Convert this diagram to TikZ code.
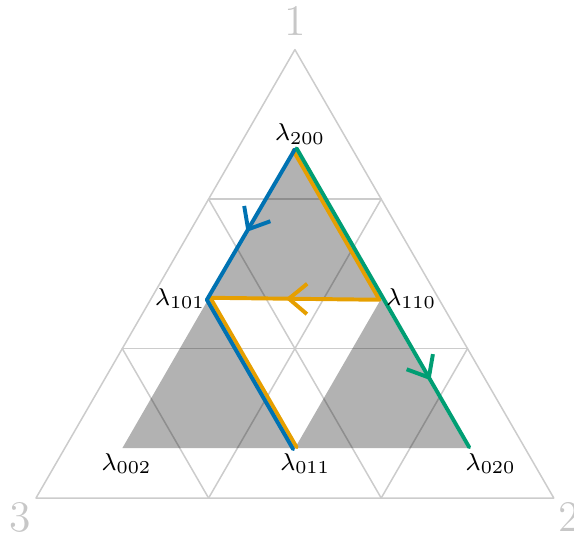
\documentclass[tikz,border=0pt]{standalone}
\usetikzlibrary{arrows.meta,decorations.markings}
\definecolor{walkblue}{RGB}{0,114,178}
\definecolor{walkorange}{RGB}{230,159,0}
\definecolor{walkgreen}{RGB}{0,158,115}
\tikzset{
	gridline/.style={draw=black!20, line width=0.5pt},
	cornerlabel/.style={text=black!22, font=\Large},
	ptlabel/.style={font=\footnotesize, inner sep=1.5pt},
	cell/.style={fill=black, fill opacity=0.3},
	walk/.style={line width=1.3pt},
	walkarrow/.style={postaction={decorate}, decoration={markings,
		mark=at position #1 with {\arrow[xshift=3pt]{Straight Barb[length=6pt,width=10pt]}}}},
	toright/.style={shift={(30:0.65pt)}},
	toleft/.style={shift={(210:0.65pt)}},
}
\begin{document}
\begin{tikzpicture}[scale=1, line join=round, line cap=round]
	\useasboundingbox (-0.417,-0.545) rectangle (6.234,5.771);
	% corners of the simplex
	\coordinate (v1) at (3,5.196);
	\coordinate (v2) at (6,0);
	\coordinate (v3) at (0,0);
	\node[cornerlabel, above=1pt] (n1) at (v1) {1};
	\node[cornerlabel, below left=-2pt] (n2) at (v3) {3};
	\node[cornerlabel, below right=-2pt] (n3) at (v2) {2};
	% grid
	\draw[gridline] (v1) -- (v2) -- (v3) -- cycle;
	\foreach \i in {1,2}{
		\pgfmathsetmacro{\j}{3-\i}
		\draw[gridline] (barycentric cs:v1=\i,v3=\j) -- (barycentric cs:v1=\i,v2=\j);
		\draw[gridline] (barycentric cs:v2=\i,v1=\j) -- (barycentric cs:v2=\i,v3=\j);
		\draw[gridline] (barycentric cs:v3=\i,v2=\j) -- (barycentric cs:v3=\i,v1=\j);
	}
	% points
	\coordinate (l200) at (barycentric cs:v1=7,v2=1,v3=1);
	\coordinate (l020) at (barycentric cs:v1=1,v2=7,v3=1);
	\coordinate (l002) at (barycentric cs:v1=1,v2=1,v3=7);
	\coordinate (l110) at (barycentric cs:v1=4,v2=4,v3=1);
	\coordinate (l101) at (barycentric cs:v1=4,v2=1,v3=4);
	\coordinate (l011) at (barycentric cs:v1=1,v2=4,v3=4);
	% shaded cells
	\fill[cell] (l200) -- (l110) -- (l101) -- cycle;
	\fill[cell] (l101) -- (l011) -- (l002) -- cycle;
	\fill[cell] (l110) -- (l020) -- (l011) -- cycle;
	% walks
	\draw[walk, walkorange, walkarrow=0.5] ([toleft]l200) -- ([toleft]l110) -- ([toright]l101) -- ([toright]l011);
	\draw[walk, walkblue, walkarrow=0.25] (l200) -- ([toleft]l101) -- ([toleft]l011);
	\draw[walk, walkgreen, walkarrow=0.75] ([toright]l200) -- ([toright]l020);
	% labels
	\node[ptlabel, above, xshift=0.06cm] (t200) at (l200) {$\lambda_{200}$};
	\node[ptlabel, left=-0.5pt] (t101) at (l101) {$\lambda_{101}$};
	\node[ptlabel, right=0pt] (t110) at (l110) {$\lambda_{110}$};
	\node[ptlabel, below, xshift=0.05cm] (t002) at (l002) {$\lambda_{002}$};
	\node[ptlabel, below, xshift=0.12cm] (t011) at (l011) {$\lambda_{011}$};
	\node[ptlabel, below right, xshift=-0.08cm] (t020) at (l020) {$\lambda_{020}$};
\end{tikzpicture}
\end{document}
